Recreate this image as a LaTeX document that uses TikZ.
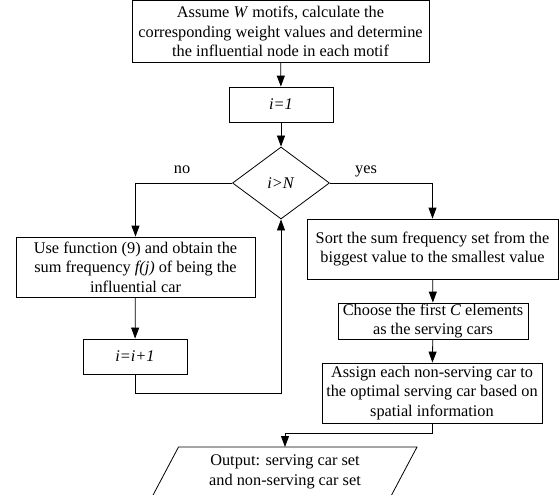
\documentclass[tikz,border=0pt]{standalone}
\usepackage{fontspec}
\setmainfont{Liberation Serif}
\usetikzlibrary{shapes.geometric,arrows.meta}
\begin{document}
\begin{tikzpicture}[x=1pt,y=-1pt,
  box/.style={draw,line width=0.8pt,inner sep=0pt,align=center,font=\fontsize{16.3}{19.5}\selectfont},
  arr/.style={line width=0.8pt,-{Triangle[length=11pt,width=8pt]}},
  lbl/.style={font=\fontsize{16.3}{19.5}\selectfont,inner sep=0pt,align=center}]
\useasboundingbox (0,0) rectangle (560,495);
\node[box,minimum width=297,minimum height=62] (top) at (280.5,31.5) {Assume \textit{W} motifs, calculate the\\corresponding weight values and determine\\the influential node in each motif};
\node[box,minimum width=104,minimum height=35] (init) at (281,104.5) {\textit{i=1}};
\node[box,shape=diamond,minimum width=97,minimum height=72] (dia) at (281,183) {\textit{i>N}};
\node[box,minimum width=239,minimum height=60] (use) at (135.5,267) {Use function (9) and obtain the\\sum frequency \textit{f(j)} of being the\\influential car};
\node[box,minimum width=104,minimum height=35] (inc) at (135,356.5) {\textit{i=i+1}};
\node[box,minimum width=251,minimum height=60] (sort) at (432.5,249) {Sort the sum frequency set from the\\biggest value to the smallest value};
\node[box,minimum width=190,minimum height=36] (choose) at (433,321) {Choose the first \textit{C} elements\\as the serving cars};
\node[box,minimum width=220,minimum height=60] (assign) at (432,393) {Assign each non-serving car to\\the optimal serving car based on\\spatial information};
\node[lbl] (out) at (285,472) {Output: serving car set\\and non-serving car set};
\draw[line width=0.8pt] (152,497) -- (178.5,447) -- (417,447) -- (390.5,497);
\coordinate (outtop) at (285,447);
\node[lbl] (no) at (182,170) {no};
\node[lbl] (yes) at (366,171) {yes};
\coordinate (lp) at (281,393.3);
\draw[arr] (top) -- (init);
\draw[arr] (init) -- (dia);
\draw[arr] (dia.west) -| (use.north);
\draw[arr] (dia.east) -| (sort.north);
\draw[arr] (use) -- (inc);
\draw[arr] (inc.south) |- (lp) -- (dia.south);
\draw[arr] (sort) -- (choose);
\draw[arr] (choose) -- (assign);
\draw[arr] (assign.south) -- ++(0,10) -| (outtop);
\end{tikzpicture}
\end{document}
